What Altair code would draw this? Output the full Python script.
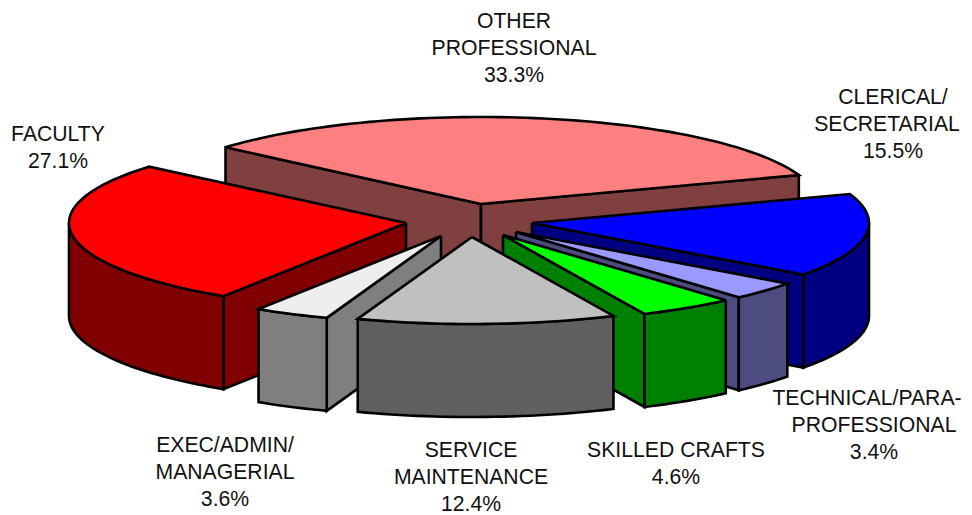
import numpy as np
import pandas as pd
import altair as alt

# --- values (clockwise from the back slice) ---
categories = ["OTHER PROFESSIONAL", "CLERICAL/SECRETARIAL", "TECHNICAL/PARA-PROFESSIONAL",
              "SKILLED CRAFTS", "SERVICE MAINTENANCE", "EXEC/ADMIN/MANAGERIAL", "FACULTY"]
shares = [33.3, 15.5, 3.4, 4.6, 12.4, 3.6, 27.1]

# --- look of the pie ---
top_colors = ["#FF8080", "#0000FF", "#9999FF", "#00FF00", "#C0C0C0", "#EEEEEE", "#FF0000"]
side_colors = ["#804040", "#000080", "#4C4C80", "#008000", "#606060", "#7F7F7F", "#800000"]
hub_x = [481, 532, 516, 503, 472, 441, 406]   # exploded slice hubs
hub_y = [204, 223, 232, 235, 237, 236, 223]
paint_order = [0, 6, 1, 5, 2, 3, 4]           # back to front
first_angle = 139.3
rx, ry, depth = 337, 87, 93

label_lines = [["OTHER", "PROFESSIONAL", "33.3%"],
               ["CLERICAL/", "SECRETARIAL", "15.5%"],
               ["TECHNICAL/PARA-", "PROFESSIONAL", "3.4%"],
               ["SKILLED CRAFTS", "4.6%"],
               ["SERVICE", "MAINTENANCE", "12.4%"],
               ["EXEC/ADMIN/", "MANAGERIAL", "3.6%"],
               ["FACULTY", "27.1%"]]
label_x = [514, 893, 874, 676, 471, 225, 58]
label_y = [22, 98, 399, 451, 451, 446, 135]
line_step = 27.2
# these two lines stay inside the drawing area
line_nudge = {"TECHNICAL/PARA-": -7, "SECRETARIAL": -6}

# --- slice geometry follows from the shares ---
spans = np.array(shares) * 3.6
starts = first_angle - np.concatenate([[0], np.cumsum(spans)[:-1]])
ends = starts - spans


def rim(cx, cy, a, b, drop=0):
    n = max(2, int(abs(a - b) / 1.5) + 2)
    t = np.radians(np.linspace(a, b, n))
    return list(zip(cx + rx * np.cos(t), cy - ry * np.sin(t) + drop))


rows = []
pid = 0


def add(points, color):
    global pid
    pts = list(points) + [points[0]]
    for k, (px, py) in enumerate(pts):
        rows.append({"poly": pid, "k": k, "px": px, "py": py, "paint": color})
    pid += 1


for i in paint_order:
    cx, cy, a, b = hub_x[i], hub_y[i], starts[i], ends[i]
    for ang, show in ((a, np.cos(np.radians(a)) < 0), (b, np.cos(np.radians(b)) > 0)):
        if show:
            ex, ey = rim(cx, cy, ang, ang)[0]
            add([(cx, cy), (ex, ey), (ex, ey + depth), (cx, cy + depth)], side_colors[i])
    lo, hi = max(b, -180), min(a, 0)
    if lo < hi:
        add(rim(cx, cy, hi, lo) + rim(cx, cy, lo, hi, depth), side_colors[i])
    add([(cx, cy)] + rim(cx, cy, a, b), top_colors[i])

polys = pd.DataFrame(rows)

text_rows = []
for i, lines in enumerate(label_lines):
    for j, line in enumerate(lines):
        nudge = line_nudge.get(line, 0) if i != 0 else 0
        text_rows.append({"label": line, "lx": label_x[i] + nudge,
                          "ly": label_y[i] + j * line_step})
texts = pd.DataFrame(text_rows)

X0, X1, Y0, Y1 = 8, 964, 8, 514
xs = alt.Scale(domain=[X0, X1])
ys = alt.Scale(domain=[Y0, Y1], reverse=True)

pie = alt.Chart(polys).mark_line(strokeWidth=2.6, stroke="black", strokeJoin="miter", clip=False).encode(
    x=alt.X("px:Q", scale=xs, axis=None),
    y=alt.Y("py:Q", scale=ys, axis=None),
    detail="poly:N",
    order="k:Q",
    fill=alt.Fill("paint:N", scale=None),
)

labels = alt.Chart(texts).mark_text(font="Liberation Sans", fontSize=21.2, color="#111111",
                                    align="center", baseline="middle").encode(
    x=alt.X("lx:Q", scale=xs, axis=None),
    y=alt.Y("ly:Q", scale=ys, axis=None),
    text="label:N",
)

chart = alt.layer(pie, labels).properties(
    width=X1 - X0, height=Y1 - Y0, padding=0,
    autosize=alt.AutoSizeParams(type="none"),
).configure_view(stroke=None)

chart.save("out.html", embed_options={"renderer": "svg", "actions": False})
